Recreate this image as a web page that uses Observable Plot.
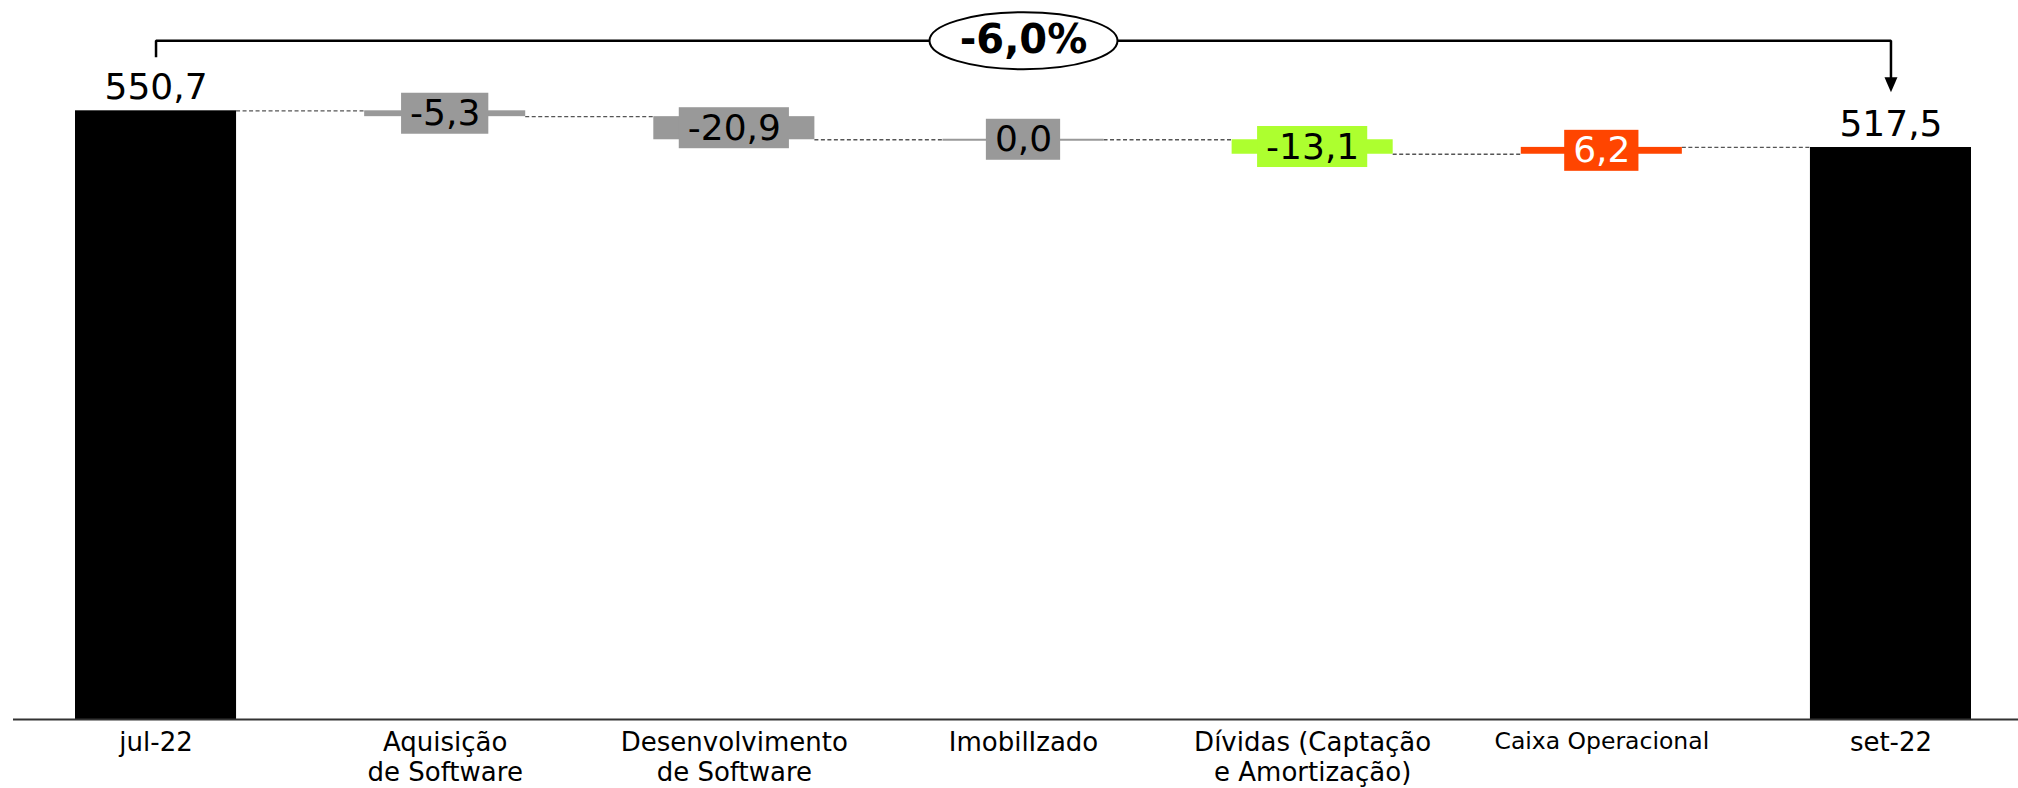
<!DOCTYPE html>
<html><head><meta charset="utf-8">
<script src="https://cdn.jsdelivr.net/npm/d3@7"></script>
<script src="https://cdn.jsdelivr.net/npm/@observablehq/plot@0.6"></script>
<style>html,body{margin:0;padding:0;background:#fff;overflow:hidden}</style>
</head><body><div id="chart"></div>
<script>
// ---- data ----
const categories = ["jul-22", "Aquisição\nde Software", "Desenvolvimento\nde Software", "ImobilIzado", "Dívidas (Captação\ne Amortização)", "Caixa Operacional", "set-22"];
const kinds = ["total", "delta", "delta", "delta", "delta", "delta", "total"];
const values = [550.7, -5.3, -20.9, 0.0, -13.1, 6.2, 517.5];
const groups = ["total", "investimento", "investimento", "investimento", "dividas", "operacional", "total"];

// ---- styles ----
const fillOf = {total: "#000000", investimento: "#999999", dividas: "#ADFF2F", operacional: "#FF4500"};
const textOf = {total: "#000000", investimento: "#000000", dividas: "#000000", operacional: "#FFFFFF"};
const FONT = "DejaVu Sans";
const W = 2018, H = 788;

const fmt = v => (v < 0 ? "-" : "") + Math.abs(v).toFixed(1).replace(".", ",");

let running = 0;
const rows = categories.map((c, i) => {
  let y1, y2;
  if (kinds[i] === "total") { y1 = 0; y2 = values[i]; }
  else { y1 = running; y2 = running + values[i]; }
  running = y2;
  return {cat: c, kind: kinds[i], value: values[i], y1, y2, mid: (y1 + y2) / 2, group: groups[i]};
});
const totals = rows.filter(d => d.kind === "total");
const deltas = rows.filter(d => d.kind === "delta");
const connectors = rows.slice(0, -1).map((d, i) => ({from: d.cat, to: rows[i + 1].cat, level: d.y2}));

const xOpts = {type: "band", domain: categories, range: [75, 1971], paddingInner: 0.443, paddingOuter: 0, round: false, axis: null};
const yOpts = {domain: [0, 640], range: [719, 719 - 640 * 1.1053], axis: null};
const bw = Plot.scale({x: xOpts}).bandwidth;

// measure label widths for the value boxes
const ctx = document.createElement("canvas").getContext("2d");
ctx.font = `36px "${FONT}"`;
const boxMarks = deltas.map(d => {
  const w = ctx.measureText(fmt(d.value)).width + 17;
  const inset = (bw - w) / 2;
  return Plot.barY([d], {x: "cat", y1: "mid", y2: "mid", insetTop: -20.5, insetBottom: -20.5,
    insetLeft: inset, insetRight: inset, fill: fillOf[d.group]});
});

// bracket annotation
const first = rows[0], last = rows[rows.length - 1];
const level = first.value + 63.4;
const bracket = [
  {cat: first.cat, y: first.value + 48.4},
  {cat: first.cat, y: level},
  {cat: last.cat, y: level},
  {cat: last.cat, y: last.value + 56}
];
const tip = last.value + 50;
const midCat = categories[Math.floor(categories.length / 2)];
const pct = (last.value / first.value - 1) * 100;
const pctText = (pct < 0 ? "-" : "") + Math.abs(pct).toFixed(1).replace(".", ",") + "%";

const arrowHead = {draw(p) { p.moveTo(-6.5, -15); p.lineTo(6.5, -15); p.lineTo(0, 0); p.closePath(); }};
const ellipse = {draw(p) {
  const rx = 94, ry = 28.5, k = 0.5523;
  p.moveTo(-rx, 0);
  p.bezierCurveTo(-rx, -ry * k, -rx * k, -ry, 0, -ry);
  p.bezierCurveTo(rx * k, -ry, rx, -ry * k, rx, 0);
  p.bezierCurveTo(rx, ry * k, rx * k, ry, 0, ry);
  p.bezierCurveTo(-rx * k, ry, -rx, ry * k, -rx, 0);
  p.closePath();
}};

const chart = Plot.plot({
  width: W, height: H,
  marginLeft: 13, marginRight: 0, marginTop: 0, marginBottom: 69,
  style: {fontFamily: FONT, background: "#fff"},
  x: xOpts, y: yOpts,
  marks: [
    Plot.ruleY(connectors, {x1: "from", x2: "to", y: "level", insetLeft: bw, insetRight: bw,
      stroke: "#555", strokeWidth: 1.3, strokeDasharray: "4,2.5"}),
    Plot.barY(totals, {x: "cat", y1: "y1", y2: "y2", fill: d => fillOf[d.group]}),
    Plot.barY(deltas.filter(d => d.value !== 0), {x: "cat", y1: "y1", y2: "y2", fill: d => fillOf[d.group]}),
    Plot.tickY(deltas.filter(d => d.value === 0), {x: "cat", y: "y1", stroke: d => fillOf[d.group], strokeWidth: 2}),
    ...boxMarks,
    Plot.text(deltas, {x: "cat", y: "mid", text: d => fmt(d.value), fill: d => textOf[d.group], fontSize: 36}),
    Plot.text(totals, {x: "cat", y: "y2", text: d => fmt(d.value), dy: -23.5, fill: "#000", fontSize: 36}),
    Plot.ruleY([0], {stroke: "#333", strokeWidth: 2}),
    Plot.text(rows, {x: "cat", y: () => 0, text: "cat", lineAnchor: "top", dy: 11, lineHeight: 1.13,
      fill: "#000", fontSize: d => d.cat === "Caixa Operacional" ? 23.5 : 26}),
    Plot.line(bracket, {x: "cat", y: "y", stroke: "#000", strokeWidth: 2.5, strokeLinejoin: "miter", strokeLinecap: "butt"}),
    Plot.dot([{cat: last.cat, y: tip}], {x: "cat", y: "y", symbol: arrowHead, fill: "#000", stroke: "none"}),
    Plot.dot([{cat: midCat, y: level}], {x: "cat", y: "y", symbol: ellipse, fill: "#fff", stroke: "#000", strokeWidth: 2}),
    Plot.text([{cat: midCat, y: level}], {x: "cat", y: "y", text: () => pctText, fontSize: 40, fontWeight: "bold", fill: "#000", dy: -1})
  ]
});
document.getElementById("chart").appendChild(chart);
</script>
</body></html>
